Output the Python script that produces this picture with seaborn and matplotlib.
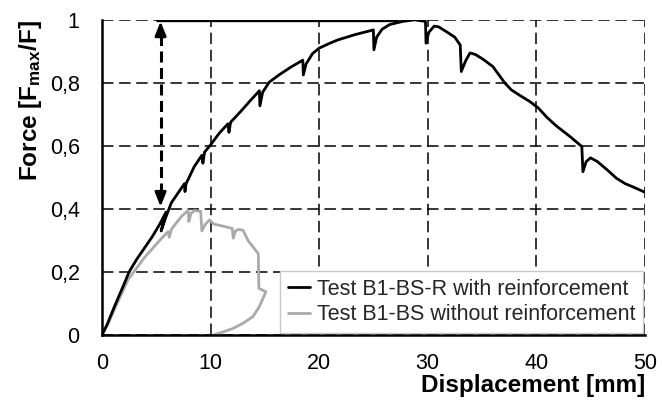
import matplotlib
matplotlib.use("Agg")
import matplotlib.pyplot as plt
import seaborn as sns
import pandas as pd
from matplotlib.ticker import FuncFormatter

# ---- data ----
reinf_x = [0, 0.5, 1.15, 2.07, 2.5, 3.2, 3.9, 4.6, 5.3, 5.9, 5.45, 5.9, 6.4, 7.0, 7.6, 7.65, 7.75,
           8.5, 9.2, 9.3, 9.45, 10.0, 10.8, 11.6, 11.7, 11.85, 12.8, 13.7, 14.5, 14.55, 14.8,
           15.4, 16.3, 17.4, 18.5, 18.55, 18.8, 19.4, 20.0, 21.0, 21.7, 23.3, 25.0, 25.05, 25.3,
           25.8, 26.5, 27.7, 28.8, 29.8, 29.85, 30.1, 30.6, 31.0, 31.7, 32.5, 33.0, 33.1, 33.5,
           33.9, 34.4, 35.1, 36.0, 37.1, 37.7, 38.5, 39.4, 40.2, 41.0, 41.9, 43.1, 44.2, 44.3,
           44.6, 45.0, 45.6, 46.5, 47.4, 48.2, 48.9, 50.0]
reinf_y = [0, 0.035, 0.09, 0.164, 0.20, 0.24, 0.275, 0.31, 0.35, 0.39, 0.33, 0.375, 0.42, 0.45, 0.48, 0.455, 0.48,
           0.534, 0.57, 0.545, 0.58, 0.603, 0.64, 0.67, 0.643, 0.675, 0.71, 0.745, 0.775, 0.727, 0.77,
           0.802, 0.825, 0.85, 0.872, 0.825, 0.86, 0.893, 0.91, 0.926, 0.936, 0.953, 0.968, 0.905, 0.945,
           0.97, 0.985, 0.995, 1.0, 0.995, 0.926, 0.96, 0.98, 0.978, 0.963, 0.945, 0.92, 0.836, 0.87,
           0.895, 0.89, 0.875, 0.852, 0.80, 0.778, 0.76, 0.741, 0.72, 0.69, 0.662, 0.63, 0.598, 0.518,
           0.55, 0.562, 0.551, 0.525, 0.497, 0.48, 0.47, 0.453]

plain_x = [0, 0.5, 1.2, 2.4, 3.9, 5.45, 6.1, 6.2, 6.4, 6.7, 7.3, 7.6, 7.95, 8.0, 8.2, 8.5, 9.1, 9.2,
           9.5, 9.9, 10.3, 11.3, 12.0, 12.1, 12.3, 12.6, 13.0, 13.45, 13.9, 14.4, 14.45, 15.1,
           14.5, 13.9, 13.0, 12.1, 11.2, 10.3]
plain_y = [0, 0.03, 0.085, 0.175, 0.245, 0.305, 0.328, 0.31, 0.335, 0.349, 0.375, 0.385, 0.395, 0.36, 0.385,
           0.395, 0.392, 0.33, 0.35, 0.365, 0.352, 0.344, 0.338, 0.307, 0.33, 0.335, 0.332, 0.30, 0.28,
           0.258, 0.148, 0.137, 0.09, 0.058, 0.037, 0.021, 0.01, 0.0]

label_reinf = "Test B1-BS-R with reinforcement"
label_plain = "Test B1-BS without reinforcement"

fmax_line_x = [5.0, 27.3]
fmax_line_y = [1.0, 1.0]
arrow_x = 5.4
arrow_y = [0.407, 0.995]

x_ticks = [0, 10, 20, 30, 40, 50]
y_ticks = [0, 0.2, 0.4, 0.6, 0.8, 1.0]

# ---- styling ----
sns.set_theme(style="white")
plt.rcParams['font.family'] = ['Liberation Sans', 'DejaVu Sans']
plt.rcParams['mathtext.fontset'] = 'custom'
plt.rcParams['mathtext.rm'] = 'Liberation Sans:bold'
plt.rcParams['mathtext.it'] = 'Liberation Sans:bold'
plt.rcParams['mathtext.bf'] = 'Liberation Sans:bold'

fig = plt.figure(figsize=(6.62, 4.05), dpi=100)
ax = fig.add_axes([0.154, 0.173, 0.82, 0.778])

df_r = pd.DataFrame({"x": reinf_x, "y": reinf_y})
df_p = pd.DataFrame({"x": plain_x, "y": plain_y})

sns.lineplot(data=df_r, x="x", y="y", sort=False, estimator=None, color="black",
             lw=2.0, ax=ax, label=label_reinf, zorder=4)
sns.lineplot(data=df_p, x="x", y="y", sort=False, estimator=None, color="#aaaaaa",
             lw=2.0, ax=ax, label=label_plain, zorder=3)

# F_max line
ax.plot(fmax_line_x, fmax_line_y, color="black", lw=2.4, zorder=5, solid_capstyle="butt")

# double dashed arrow
ax.plot([arrow_x, arrow_x], [arrow_y[0] + 0.04, arrow_y[1] - 0.04], color="black",
        lw=2.2, ls=(0, (3.6, 1.8)), zorder=5)
for tip, tail in [(arrow_y[1], arrow_y[1] - 0.05), (arrow_y[0], arrow_y[0] + 0.05)]:
    ax.annotate("", xy=(arrow_x, tip), xytext=(arrow_x, tail),
                arrowprops=dict(arrowstyle="-|>,head_length=0.7,head_width=0.28",
                                color="black", lw=2.0, shrinkA=0, shrinkB=0), zorder=6)

ax.set_xlim(0, 50)
ax.set_ylim(0, 1)
ax.set_xticks(x_ticks)
ax.set_yticks(y_ticks)
fmt = FuncFormatter(lambda v, p: ("%g" % v).replace(".", ","))
ax.xaxis.set_major_formatter(fmt)
ax.yaxis.set_major_formatter(fmt)

ax.grid(True, color="black", ls=(0, (7.5, 3.7)), lw=1.1)
ax.set_axisbelow(True)
for s in ["top", "right"]:
    ax.spines[s].set_visible(False)
for s in ["left", "bottom"]:
    ax.spines[s].set_color("black")
    ax.spines[s].set_linewidth(1.8)
    ax.spines[s].set_zorder(7)

ax.tick_params(axis="both", direction="inout", length=10, width=1.6, color="black",
               labelsize=15.5, labelcolor="black")
ax.tick_params(axis="x", pad=8)
ax.tick_params(axis="y", pad=11)

ax.set_xlabel("Displacement [mm]", fontsize=17.5, fontweight="bold", loc="right", labelpad=0,
              color="black")
ax.set_ylabel(r"Force [F$_{\rm max}$/F]", fontsize=17.5, fontweight="bold", loc="top",
              labelpad=4, color="black")

leg = ax.legend(loc="lower right", fontsize=15.5, frameon=True, fancybox=False,
                edgecolor="#c8c8c8", framealpha=1, borderaxespad=0.1, handlelength=1.05,
                handletextpad=0.3, borderpad=0.35, labelspacing=0.2)
leg.get_frame().set_linewidth(1.0)
leg.set_zorder(8)

fig.savefig("out.png", dpi=100)
